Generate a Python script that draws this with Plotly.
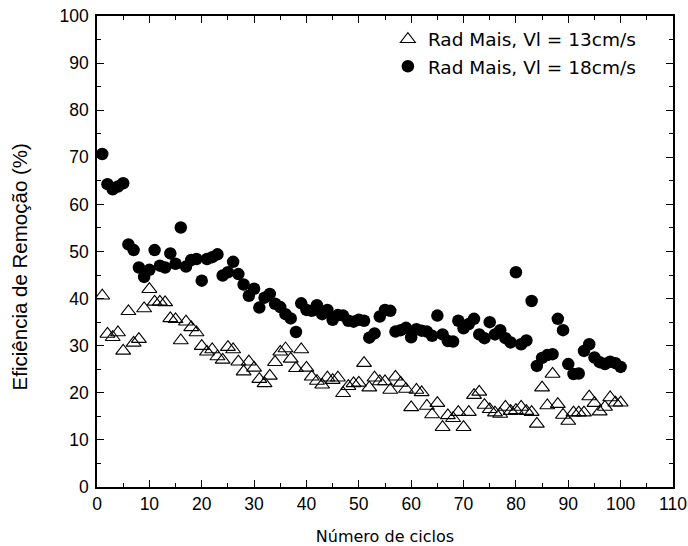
import plotly.graph_objects as go

cycles = list(range(1, 101))

eff_13 = [40.6, 32.5, 31.8, 32.8, 28.9, 37.3, 30.6, 31.4, 37.9, 42.0,
          39.3, 39.3, 39.2, 35.8, 35.6, 31.1, 35.1, 33.9, 32.8, 29.9,
          28.7, 29.2, 27.7, 27.0, 29.7, 29.2, 26.6, 24.5, 26.6, 25.3,
          22.9, 22.0, 23.6, 26.5, 28.7, 29.4, 27.2, 25.2, 29.2, 25.3,
          23.4, 22.5, 21.7, 23.2, 22.7, 23.2, 19.9, 21.4, 22.0, 22.1,
          26.3, 21.1, 23.2, 22.4, 22.4, 20.6, 23.4, 22.1, 20.8, 16.9,
          20.6, 20.1, 17.2, 15.4, 17.8, 12.7, 15.2, 14.6, 15.9, 12.7,
          15.9, 19.5, 20.2, 17.4, 16.5, 15.8, 15.5, 17.0, 16.1, 16.3,
          17.0, 16.1, 15.9, 13.4, 21.1, 17.3, 24.0, 17.6, 15.3, 14.0,
          15.8, 15.8, 15.8, 19.2, 17.8, 16.0, 17.0, 19.0, 17.9, 17.9]

eff_18 = [70.7, 64.3, 63.2, 63.8, 64.5, 51.5, 50.3, 46.6, 44.6, 46.1,
          50.3, 47.0, 46.6, 49.6, 47.4, 55.1, 46.8, 48.2, 48.4, 43.8,
          48.4, 48.8, 49.4, 44.9, 45.6, 47.8, 45.2, 43.0, 40.6, 42.1,
          38.1, 40.2, 41.0, 38.9, 38.2, 36.7, 35.8, 32.9, 39.0, 37.6,
          37.4, 38.6, 36.7, 37.6, 35.5, 36.5, 36.4, 35.3, 35.1, 35.5,
          35.3, 31.7, 32.6, 36.2, 37.6, 37.4, 33.0, 33.3, 33.8, 31.8,
          33.5, 33.2, 33.0, 32.1, 36.4, 32.4, 31.0, 30.9, 35.3, 33.7,
          34.6, 35.7, 32.4, 31.6, 35.0, 32.4, 33.3, 31.6, 30.7, 45.6,
          30.3, 31.1, 39.5, 25.7, 27.4, 28.0, 28.2, 35.7, 33.3, 26.1,
          24.0, 24.1, 28.9, 30.3, 27.5, 26.5, 26.1, 26.6, 26.3, 25.5]

name_13 = "Rad Mais, Vl = 13cm/s"
name_18 = "Rad Mais, Vl = 18cm/s"
x_title = "Número de ciclos"
y_title = "Eficiência de Remoção (%)"

fig = go.Figure()
fig.add_trace(go.Scatter(
    x=cycles, y=eff_13, mode="markers", name=name_13,
    marker=dict(symbol="triangle-up-open", size=13, color="black",
                line=dict(width=1.1, color="black")),
))
fig.add_trace(go.Scatter(
    x=cycles, y=eff_18, mode="markers", name=name_18,
    marker=dict(symbol="circle", size=12.5, color="black"),
))

tick_font = dict(family="Liberation Sans, Arial, sans-serif", size=17.5, color="black")
xtitle_font = dict(family="DejaVu Sans, Verdana, sans-serif", size=16, color="black")
ytitle_font = dict(family="Liberation Sans, Arial, sans-serif", size=20.5, color="black")

axis_common = dict(
    showline=True, linecolor="black", linewidth=1.5, mirror="ticks",
    ticks="inside", ticklen=7, tickwidth=1.2, tickcolor="black",
    showgrid=False, zeroline=False, tickfont=tick_font, automargin=False,
    minor=dict(ticks="inside", ticklen=4, tickwidth=1, tickcolor="black", dtick=5, showgrid=False),
)

fig.update_xaxes(range=[0, 110], dtick=10, tick0=0,
                 title=dict(text=x_title, font=xtitle_font, standoff=19),
                 **axis_common)
fig.update_yaxes(range=[0, 100], dtick=10, tick0=0, ticklabelstandoff=3,
                 **axis_common)

# y-axis title placed like the reference (slightly below the axis centre)
fig.add_annotation(
    text=y_title, textangle=-90, showarrow=False,
    xref="paper", yref="paper", x=-0.134, y=0.468,
    xanchor="center", yanchor="middle", font=ytitle_font,
)

fig.update_layout(
    width=688, height=546,
    margin=dict(l=97, r=15, t=16, b=59),
    paper_bgcolor="white", plot_bgcolor="white",
    showlegend=True,
    legend=dict(x=0.505, y=0.99, xanchor="left", yanchor="top",
                bgcolor="rgba(0,0,0,0)", borderwidth=0,
                font=dict(family="DejaVu Sans, Verdana, sans-serif", size=18.5, color="black"),
                itemwidth=30, tracegroupgap=0),
)

fig.write_html(
    "out.html",
    config={"displayModeBar": False},
    post_script="document.body.style.margin='0px';document.body.style.overflow='hidden';",
)
